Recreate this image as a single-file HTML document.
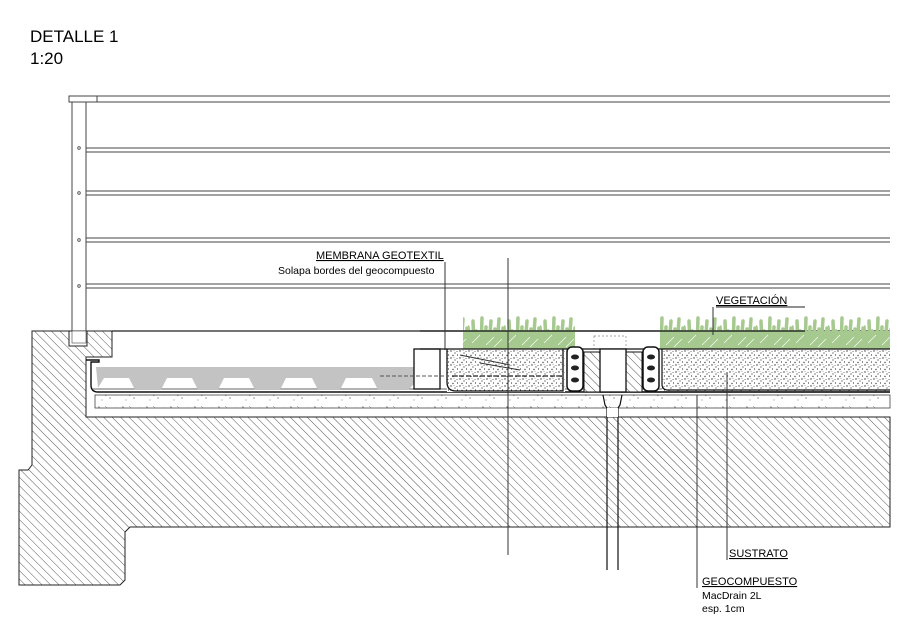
<!DOCTYPE html>
<html><head><meta charset="utf-8"><style>
html,body{margin:0;padding:0;background:#fff;}
svg{display:block;}
text{font-family:"Liberation Sans",Arial,sans-serif;fill:#000;}
</style></head><body>
<svg width="916" height="625" viewBox="0 0 916 625" xmlns="http://www.w3.org/2000/svg">
<defs>
<pattern id="h" patternUnits="userSpaceOnUse" width="6" height="6" patternTransform="rotate(-45)">
<rect width="6" height="6" fill="#fff"/><line x1="0" y1="0" x2="0" y2="6" stroke="#444" stroke-width="0.9"/>
</pattern>
<pattern id="d" patternUnits="userSpaceOnUse" width="9" height="7">
<rect width="9" height="7" fill="#fff"/>
<circle cx="1" cy="1" r="0.7" fill="#333"/><circle cx="5" cy="3" r="0.6" fill="#333"/><circle cx="3" cy="5.5" r="0.7" fill="#444"/><circle cx="7.5" cy="5" r="0.6" fill="#333"/><circle cx="7" cy="1.5" r="0.5" fill="#444"/><circle cx="4" cy="0.5" r="0.4" fill="#444"/>
</pattern>
<pattern id="c" patternUnits="userSpaceOnUse" width="24" height="13">
<rect width="24" height="13" fill="#fff"/>
<circle cx="3" cy="4" r="0.6" fill="#555"/><circle cx="14" cy="8" r="0.6" fill="#555"/><path d="M9 3 l2 2 l-2 1" fill="none" stroke="#777" stroke-width="0.5"/><circle cx="20" cy="5" r="0.5" fill="#555"/><circle cx="6" cy="10" r="0.5" fill="#555"/>
</pattern>
<pattern id="g" patternUnits="userSpaceOnUse" x="0" y="313" width="36" height="36">
<g stroke="#a5c98e" stroke-width="3.5" stroke-linecap="round" fill="none">
<path d="M2 34 L0 14 M6 34 L5 8 M10 34 L8 18 M13 34 L14 5 M17 34 L18 14 M21 34 L23 8 M25 34 L27 16 M29 34 L31 6 M33 34 L35 15"/>
</g>
<path d="M0 18 L36 18 L36 36 L0 36 Z" fill="#a5c98e"/>
<g stroke="#fff" stroke-width="0.6"><line x1="4" y1="30" x2="12" y2="22"/><line x1="18" y1="32" x2="26" y2="24"/><line x1="26" y1="34" x2="34" y2="26"/></g>
</pattern>
</defs>

<text x="30" y="42" font-size="17">DETALLE 1</text>
<text x="30" y="64" font-size="17">1:20</text>

<!-- railing -->
<g stroke="#444" stroke-width="1" fill="none">
<rect x="69" y="96" width="28" height="6"/>
<line x1="97" y1="96" x2="890" y2="96"/><line x1="97" y1="102" x2="890" y2="102"/>
<line x1="86" y1="148" x2="890" y2="148"/><line x1="86" y1="152" x2="890" y2="152"/>
<line x1="86" y1="191" x2="890" y2="191"/><line x1="86" y1="195" x2="890" y2="195"/>
<line x1="86" y1="238" x2="890" y2="238"/><line x1="86" y1="242" x2="890" y2="242"/>
<line x1="86" y1="284" x2="890" y2="284"/><line x1="86" y1="288" x2="890" y2="288"/>
<line x1="72" y1="102" x2="72" y2="345"/><line x1="86" y1="102" x2="86" y2="345"/>
</g>
<g fill="none" stroke="#444" stroke-width="0.8">
<circle cx="79" cy="148" r="1.3"/><circle cx="79" cy="193" r="1.3"/><circle cx="79" cy="240" r="1.3"/><circle cx="79" cy="286" r="1.3"/>
</g>

<!-- concrete -->
<path d="M32 331 L112 331 L112 357 L86 357 L86 417 L890 417 L890 527 L130 527 L125 532 L125 580 L120 585 L19 585 L19 470 L28 470 L32 465 Z" fill="url(#h)" stroke="#222" stroke-width="1"/>
<rect x="69" y="331" width="18" height="15" fill="#fff" stroke="#222"/>
<rect x="72" y="331" width="14" height="12" fill="#fff" stroke="#444" stroke-width="0.6"/>
<line x1="112" y1="331" x2="890" y2="331" stroke="#222" stroke-width="1.3"/>
<!-- pocket layers -->
<rect x="95" y="395" width="795" height="13" fill="url(#c)" stroke="#444" stroke-width="0.8"/>
<path d="M86 360 L99 360 L99 362 L91 362 L91 385 Q91 392 98 392 L890 392" fill="none" stroke="#111" stroke-width="1.4"/>
<line x1="92" y1="389" x2="890" y2="389" stroke="#333" stroke-width="0.8"/>
<!-- drainage panels -->
<path d="M96 367 L414 367 L414 384 L408 390 L378 390 L372 378 L346 378 L340 390 L318 390 L312 378 L286 378 L280 390 L255 390 L249 378 L224 378 L218 390 L198 390 L192 378 L167 378 L161 390 L135 390 L129 378 L104 378 L98 388 Z" fill="#c3c3c3"/>
<rect x="414" y="349" width="26" height="40" fill="#fff" stroke="#111" stroke-width="1.3"/>
<line x1="380" y1="376" x2="445" y2="376" stroke="#555" stroke-dasharray="4 2"/>

<!-- vegetation -->
<rect x="463" y="313" width="112" height="36" fill="url(#g)"/>
<rect x="660" y="313" width="230" height="36" fill="url(#g)"/>
<line x1="420" y1="331" x2="805" y2="331" stroke="#111" stroke-width="1.2"/>
<rect x="594" y="336" width="32" height="13" fill="none" stroke="#888" stroke-dasharray="2 2" stroke-width="0.7"/>

<!-- soil tray left -->
<rect x="447" y="349" width="118" height="43" fill="url(#d)"/>
<path d="M447 349 L447 382 Q447 391 456 391 L563 391 L563 349" fill="none" stroke="#111" stroke-width="1.3"/>
<line x1="452" y1="376" x2="562" y2="376" stroke="#222" stroke-dasharray="5 2" stroke-width="1.3"/>
<!-- substrate right -->
<rect x="662" y="349" width="228" height="42" fill="url(#d)"/>
<path d="M662 349 L662 384 Q662 390 668 390 L890 390" fill="none" stroke="#111" stroke-width="1.2"/>
<line x1="420" y1="349" x2="890" y2="349" stroke="#111" stroke-width="1.3"/>
<line x1="600" y1="392" x2="890" y2="392" stroke="#111" stroke-width="1.3"/>
<!-- drain elements -->
<rect x="567" y="347" width="16" height="44" fill="#fff" stroke="#111" stroke-width="1.5" rx="5"/>
<rect x="643" y="347" width="16" height="44" fill="#fff" stroke="#111" stroke-width="1.5" rx="5"/>
<g fill="#222"><ellipse cx="575" cy="357" rx="4" ry="2.5"/><ellipse cx="575" cy="368" rx="4" ry="2.5"/><ellipse cx="575" cy="380" rx="4" ry="2.5"/><ellipse cx="651" cy="357" rx="4" ry="2.5"/><ellipse cx="651" cy="368" rx="4" ry="2.5"/><ellipse cx="651" cy="380" rx="4" ry="2.5"/></g>
<rect x="584" y="352" width="16" height="40" fill="url(#h)" stroke="#111"/>
<rect x="626" y="352" width="16" height="40" fill="url(#h)" stroke="#111"/>
<rect x="600" y="349" width="26" height="43" fill="#fff" stroke="#111" stroke-width="1.3"/>
<path d="M603 395 L605 405 L607 408 L607 570 M622 395 L620 405 L618 408 L618 570" fill="none" stroke="#111" stroke-width="1.2"/>
<rect x="607" y="408" width="11" height="9" fill="#fff"/>

<!-- leaders -->
<g stroke="#333" stroke-width="1" fill="none">
<line x1="445" y1="262" x2="445" y2="350"/>
<line x1="508" y1="258" x2="508" y2="555"/>
<line x1="460" y1="355" x2="510" y2="365"/><line x1="480" y1="363" x2="520" y2="370"/>
<line x1="713" y1="307" x2="713" y2="335"/>
<line x1="727" y1="372" x2="727" y2="560"/>
<line x1="697" y1="395" x2="697" y2="588"/>
</g>
<g font-size="11">
<text x="316" y="259" text-decoration="underline">MEMBRANA GEOTEXTIL</text>
<text x="278" y="274" font-size="10.5">Solapa bordes del geocompuesto</text>
<text x="716" y="304" text-decoration="underline">VEGETACIÓN</text>
<text x="729" y="557" text-decoration="underline">SUSTRATO</text>
<text x="702" y="585" text-decoration="underline">GEOCOMPUESTO</text>
<text x="702" y="599" font-size="10.5">MacDrain 2L</text>
<text x="702" y="612" font-size="10.5">esp. 1cm</text>
</g>
<line x1="716" y1="307" x2="805" y2="307" stroke="#222"/>
</svg>
</body></html>
